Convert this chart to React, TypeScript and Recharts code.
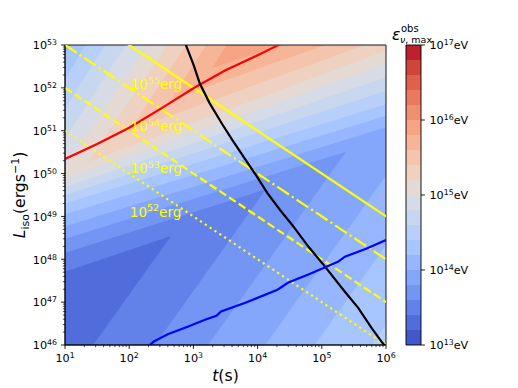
import React from "react";
import {
  ComposedChart,
  Area,
  Line,
  XAxis,
  YAxis,
  ReferenceArea,
  ReferenceDot,
} from "recharts";

const FONT = "DejaVu Sans, Verdana, sans-serif";

// filled contour levels, log10(eps/eV); each paints {eps < level}
const levels = [13.4, 13.6, 13.8, 14.0, 14.2, 14.4, 14.6, 14.8, 15.0, 15.2, 15.4, 15.6, 15.8];
const levelColors = [
  "#516ddb", "#6282ea", "#7396f5", "#84a7fc", "#96b7ff", "#a7c5fe", "#b8d0f9",
  "#c8d7f0", "#d6dbe5", "#e4d9d3", "#eed1c1", "#f5c4ac", "#f7b597",
];
const topColor = "#f6a483";

// lower wedge of each level (log10 L), from t = 10 s to where it closes
const wedgeLoStart = [45.08, 43.06, 41.32, 39.45, 37.83, 35.96, 34.14, 40, 40, 40, 40, 40, 40];
const wedgeHiStart = [47.71, 48.15, 48.48, 48.77, 49.05, 49.3, 49.5, 49.68, 49.88, 50.07, 50.455, 50.86, 51.34];
const wedgeEndT = [2.652, 4.13, 5.378, 6, 6, 6, 6, 6, 6, 6, 6, 6, 6];
const wedgeLoEnd = [48.546, 49.634, 50.511, 49.95, 48.33, 46.46, 44.64, 40, 40, 40, 40, 40, 40];
const wedgeHiEnd = [48.546, 49.634, 50.511, 51.08, 51.35, 51.62, 51.93, 52.25, 52.56, 52.87, 53.18, 53.5, 53.8];

// upper-left side of each level (log10 L at t = 10 s and t = 1e6 s)
const uStart = [null, null, null, null, 52.8, 52.2, 51.51, 50.82, 50.16, 49.48, 48.75, 47.94, 47.08];
const uEnd = [null, null, null, null, 65.3, 64.7, 63.51, 62.32, 61.16, 60.48, 60.0, 59.44, 58.83];

// curves, log10 t / log10 L
const redT = [1, 1.5, 2.0, 2.5, 3.0, 3.5, 4.0, 4.3, 4.4];
const redL = [50.34, 50.69, 51.07, 51.52, 51.99, 52.41, 52.76, 52.98, 53.05];
const blackT = [2.87, 3.0, 3.1, 3.25, 3.45, 3.6, 3.8, 3.98, 4.15, 4.35, 4.55, 4.8, 5.05, 5.35, 5.57, 5.78, 5.93, 6.0];
const blackL = [53.05, 52.55, 52.1, 51.65, 51.15, 50.8, 50.35, 49.95, 49.55, 49.15, 48.78, 48.28, 47.83, 47.26, 46.86, 46.39, 46.08, 45.95];
const blueT = [2.3, 2.38, 2.6, 2.9, 3.2, 3.36, 3.43, 3.8, 4.3, 4.38, 4.48, 4.8, 5.26, 5.36, 5.7, 6.0];
const blueL = [45.97, 46.08, 46.25, 46.42, 46.6, 46.68, 46.78, 46.98, 47.28, 47.36, 47.46, 47.65, 47.95, 48.06, 48.25, 48.45];

// constant-energy lines (erg), end points at t = 10 s and t = 1e6 s
const energyExp = [55, 54, 53, 52];
const energyLStart = [54, 53, 52, 51];
const energyLEnd = [49, 48, 47, 46];
const energyDash = ["", "14 3.5 2.2 3.5", "8.1 3.5", "2.2 3.6"];
const energyLabelT = [2.02, 2.02, 2.02, 2.01];
const energyLabelL = [52.09, 51.11, 50.13, 49.11];

// ticks
const xMajor = [1, 2, 3, 4, 5, 6];
const yMajor = [46, 47, 48, 49, 50, 51, 52, 53];
const minorMult = [2, 3, 4, 5, 6, 7, 8, 9];

// colorbar
const cbColors = [
  "#4257ca", "#516ddb", "#6282ea", "#7396f5", "#84a7fc", "#96b7ff", "#a7c5fe",
  "#b8d0f9", "#c8d7f0", "#d6dbe5", "#e4d9d3", "#eed1c1", "#f5c4ac", "#f7b597",
  "#f6a483", "#f18f71", "#ea795f", "#de604d", "#cf453c", "#be212d",
];
const cbEdges = [13, 13.2, 13.4, 13.6, 13.8, 14, 14.2, 14.4, 14.6, 14.8, 15, 15.2, 15.4, 15.6, 15.8, 16, 16.2, 16.4, 16.6, 16.8, 17];
const cbTicks = [13, 14, 15, 16, 17];

const pts = (xs: number[], ys: number[]) => xs.map((x, i) => ({ t: 10 ** x, L: 10 ** ys[i] }));

const withMinor = (major: number[]) => {
  const out: number[] = [];
  major.forEach((e, i) => {
    out.push(10 ** e);
    if (i < major.length - 1) minorMult.forEach((m) => out.push(m * 10 ** e));
  });
  return out;
};

const xTicks = withMinor(xMajor);
const yTicks = withMinor(yMajor);

const isMajor = (v: number) => {
  const e = Math.log10(v);
  return Math.abs(e - Math.round(e)) < 1e-6;
};

function XTick({ x, y, payload }: any) {
  const major = isMajor(payload.value);
  return (
    <g>
      <line x1={x} x2={x} y1={y} y2={y + (major ? 3.9 : 2.2)} stroke="#000" strokeWidth={major ? 0.9 : 0.7} />
      {major && (
        <text x={x} y={y + 17} textAnchor="middle" fontSize={11.2} fontFamily={FONT} fill="#000">
          10<tspan dy={-4.5} fontSize={7.8}>{Math.round(Math.log10(payload.value))}</tspan>
        </text>
      )}
    </g>
  );
}

function YTick({ x, y, payload }: any) {
  const major = isMajor(payload.value);
  return (
    <g>
      <line x1={x} x2={x - (major ? 3.9 : 2.2)} y1={y} y2={y} stroke="#000" strokeWidth={major ? 0.9 : 0.7} />
      {major && (
        <text x={x - 8} y={y + 4.3} textAnchor="end" fontSize={11.2} fontFamily={FONT} fill="#000">
          10<tspan dy={-4} fontSize={7.8}>{Math.round(Math.log10(payload.value))}</tspan>
        </text>
      )}
    </g>
  );
}

function CbTick({ x, y, payload }: any) {
  return (
    <g>
      <line x1={x} x2={x + 3.9} y1={y} y2={y} stroke="#000" strokeWidth={0.9} />
      <text x={x + 8.5} y={y + 4.3} fontSize={11.2} fontFamily={FONT} fill="#000">
        10<tspan dy={-4.5} fontSize={7.8}>{payload.value}</tspan>
        <tspan dy={4.5}>eV</tspan>
      </text>
    </g>
  );
}

export default function App() {
  const fills: { key: string; color: string; data: any[] }[] = [
    { key: "bg", color: topColor, data: [{ t: 10, r: [1e40, 1e70] }, { t: 1e6, r: [1e40, 1e70] }] },
  ];
  for (let i = levels.length - 1; i >= 0; i--) {
    const us = uStart[i];
    const ue = uEnd[i];
    if (us != null && ue != null) {
      fills.push({
        key: `u${i}`,
        color: levelColors[i],
        data: [{ t: 10, r: [10 ** us, 1e70] }, { t: 1e6, r: [10 ** ue, 1e70] }],
      });
    }
    fills.push({
      key: `w${i}`,
      color: levelColors[i],
      data: [
        { t: 10, r: [10 ** wedgeLoStart[i], 10 ** wedgeHiStart[i]] },
        { t: 10 ** wedgeEndT[i], r: [10 ** wedgeLoEnd[i], 10 ** wedgeHiEnd[i]] },
      ],
    });
  }

  return (
    <div style={{ position: "absolute", left: 0, top: 0, width: 518, height: 388, background: "#fff", fontFamily: FONT }}>
      <div style={{ position: "absolute", left: 0, top: 0 }}>
        <ComposedChart width={400} height={388} margin={{ top: 45, right: 14, bottom: 0, left: 0 }}>
          <XAxis
            type="number"
            dataKey="t"
            scale="log"
            domain={[10, 1e6]}
            allowDataOverflow
            ticks={xTicks}
            interval={0}
            height={43}
            tickLine={false}
            tickSize={0}
            tickMargin={0}
            tick={XTick}
            axisLine={{ stroke: "#000", strokeWidth: 0.9 }}
          />
          <YAxis
            type="number"
            scale="log"
            domain={[1e46, 1e53]}
            allowDataOverflow
            ticks={yTicks}
            interval={0}
            width={65}
            tickLine={false}
            tickSize={0}
            tickMargin={0}
            tick={YTick}
            axisLine={{ stroke: "#000", strokeWidth: 0.9 }}
          />
          {fills.map((f) => (
            <Area
              key={f.key}
              data={f.data}
              dataKey="r"
              type="linear"
              stroke="none"
              fill={f.color}
              fillOpacity={1}
              dot={false}
              activeDot={false}
              isAnimationActive={false}
            />
          ))}
          {energyExp.map((e, i) => (
            <Line
              key={`e${e}`}
              data={pts([1, 6], [energyLStart[i], energyLEnd[i]])}
              dataKey="L"
              type="linear"
              stroke="#ffff00"
              strokeWidth={2.2}
              strokeDasharray={energyDash[i] || undefined}
              dot={false}
              activeDot={false}
              isAnimationActive={false}
            />
          ))}
          <Line data={pts(redT, redL)} dataKey="L" type="linear" stroke="#ff0000" strokeWidth={2.2} dot={false} activeDot={false} isAnimationActive={false} />
          <Line data={pts(blackT, blackL)} dataKey="L" type="linear" stroke="#000000" strokeWidth={2.2} dot={false} activeDot={false} isAnimationActive={false} />
          <Line data={pts(blueT, blueL)} dataKey="L" type="linear" stroke="#0000ff" strokeWidth={2.2} dot={false} activeDot={false} isAnimationActive={false} />
          {energyExp.map((e, i) => (
            <ReferenceDot
              key={`lab${e}`}
              x={10 ** energyLabelT[i]}
              y={10 ** energyLabelL[i]}
              r={0}
              ifOverflow="visible"
              shape={(p: any) => (
                <text x={p.cx} y={p.cy + 5} fill="#ffff00" fontSize={13.5} fontFamily={FONT}>
                  10<tspan dy={-5.5} fontSize={9.5}>{e}</tspan>
                  <tspan dy={5.5}>erg</tspan>
                </text>
              )}
            />
          ))}
          <ReferenceArea x1={10} x2={1e6} y1={1e46} y2={1e53} fill="none" stroke="#000" strokeWidth={0.9} ifOverflow="visible" />
        </ComposedChart>
      </div>

      <div style={{ position: "absolute", left: 400, top: 0 }}>
        <ComposedChart width={118} height={388} margin={{ top: 45, right: 0, bottom: 43, left: 6 }} data={[{ x: 0 }, { x: 1 }]}>
          <XAxis type="number" dataKey="x" domain={[0, 1]} hide />
          <YAxis
            type="number"
            orientation="right"
            domain={[13, 17]}
            allowDataOverflow
            ticks={cbTicks}
            interval={0}
            width={97}
            tickLine={false}
            tickSize={0}
            tickMargin={0}
            tick={CbTick}
            axisLine={false}
          />
          {cbColors.map((c, k) => (
            <ReferenceArea key={k} x1={0} x2={1} y1={cbEdges[k]} y2={cbEdges[k + 1]} fill={c} fillOpacity={1} stroke="none" />
          ))}
          <ReferenceArea x1={0} x2={1} y1={13} y2={17} fill="none" stroke="#000" strokeWidth={0.9} />
        </ComposedChart>
      </div>

      <svg width={518} height={388} style={{ position: "absolute", left: 0, top: 0, pointerEvents: "none" }}>
        <text x={225.5} y={381} textAnchor="middle" fontSize={15.7} fontFamily={FONT} fill="#000">
          <tspan fontStyle="italic">t</tspan>(s)
        </text>
        <text x={25} y={195} transform="rotate(-90 25 195)" textAnchor="middle" fontSize={15.7} fontFamily={FONT} fill="#000">
          <tspan fontStyle="italic">L</tspan>
          <tspan fontSize={11} dy={3.5}>iso</tspan>
          <tspan dy={-3.5}>(ergs</tspan>
          <tspan fontSize={11} dy={-6}>−1</tspan>
          <tspan dy={6}>)</tspan>
        </text>
        <text x={392} y={40} fontSize={15.7} fontFamily={FONT} fontStyle="italic" fill="#000">ε</text>
        <text x={401} y={32} fontSize={10} fontFamily={FONT} fill="#000">obs</text>
        <text x={400} y={42.5} fontSize={9.5} fontFamily={FONT} fill="#000">
          <tspan fontStyle="italic">ν</tspan>, max
        </text>
      </svg>
    </div>
  );
}
